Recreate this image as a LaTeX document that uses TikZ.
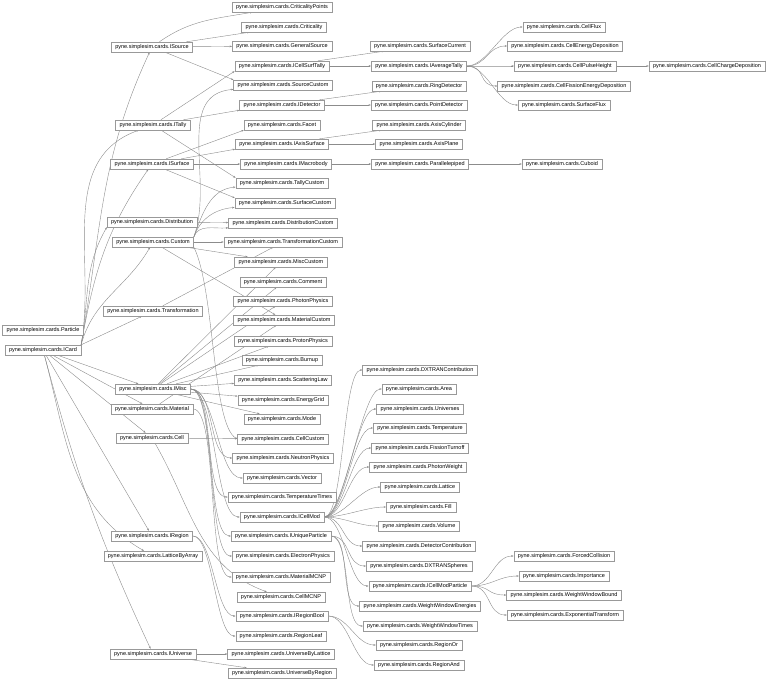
\documentclass[tikz,border=0pt]{standalone}
\usepackage{fontspec}
\setmainfont{Liberation Sans}
\usetikzlibrary{arrows.meta, backgrounds}
\newcommand{\pyc}{pyne.simplesim.cards.}
\tikzset{
  card/.style={draw=black!40, line width=0.4pt, fill=white,
    font=\fontsize{5.5}{6}\selectfont, inner xsep=4pt, inner ysep=0pt,
    minimum height=10pt},
  edge/.style={draw=black!45, line width=0.4pt, -{Stealth[length=2.5pt,width=1.8pt]}},
  lr/.style={out=0, in=180, distance=#1},
  lr/.default=20pt
}
\begin{document}
\begin{tikzpicture}[x=1pt,y=1pt]
\useasboundingbox (0,0) rectangle (768,-681);
% left column
\node[card] (ISource) at (152,-47) {\pyc ISource};
\node[card] (ITally) at (153,-125) {\pyc ITally};
\node[card] (ISurface) at (152,-164) {\pyc ISurface};
\node[card] (Dist) at (152,-222) {\pyc Distribution};
\node[card] (Custom) at (153,-242) {\pyc Custom};
\node[card] (Transf) at (153,-311) {\pyc Transformation};
\node[card] (Particle) at (43,-330) {\pyc Particle};
\node[card] (ICard) at (43,-350) {\pyc ICard};
\node[card] (IMisc) at (153,-389) {\pyc IMisc};
\node[card] (Material) at (152,-409) {\pyc Material};
\node[card] (Cell) at (152,-438) {\pyc Cell};
\node[card] (IRegion) at (152,-536) {\pyc IRegion};
\node[card] (LatArray) at (153,-556) {\pyc LatticeByArray};
\node[card] (IUniverse) at (153,-654) {\pyc IUniverse};
% middle column
\node[card] (CritPts) at (282,-7) {\pyc CriticalityPoints};
\node[card] (Crit) at (284,-27) {\pyc Criticality};
\node[card] (GenSource) at (282,-46) {\pyc GeneralSource};
\node[card] (ICellSurf) at (282,-66) {\pyc ICellSurfTally};
\node[card] (SrcCustom) at (283,-85) {\pyc SourceCustom};
\node[card] (IDetector) at (282,-105) {\pyc IDetector};
\node[card] (Facet) at (282,-125) {\pyc Facet};
\node[card] (IAxisSurf) at (282,-144) {\pyc IAxisSurface};
\node[card] (IMacrobody) at (286,-164) {\pyc IMacrobody};
\node[card] (TallyCustom) at (282,-183) {\pyc TallyCustom};
\node[card] (SurfCustom) at (285,-203) {\pyc SurfaceCustom};
\node[card] (DistCustom) at (283,-223) {\pyc DistributionCustom};
\node[card] (TransfCustom) at (283,-242) {\pyc TransformationCustom};
\node[card] (MiscCustom) at (281,-262) {\pyc MiscCustom};
\node[card] (Comment) at (283,-282) {\pyc Comment};
\node[card] (PhotonPhys) at (283,-301) {\pyc PhotonPhysics};
\node[card] (MatCustom) at (284,-320) {\pyc MaterialCustom};
\node[card] (ProtonPhys) at (283,-341) {\pyc ProtonPhysics};
\node[card] (Burnup) at (282,-360) {\pyc Burnup};
\node[card] (ScatLaw) at (283,-380) {\pyc ScatteringLaw};
\node[card] (EnergyGrid) at (283,-400) {\pyc EnergyGrid};
\node[card] (Mode) at (282,-419) {\pyc Mode};
\node[card] (CellCustom) at (283,-439) {\pyc CellCustom};
\node[card] (NeutronPhys) at (283,-458) {\pyc NeutronPhysics};
\node[card] (Vector) at (282,-478) {\pyc Vector};
\node[card] (TempTimes) at (282,-497) {\pyc TemperatureTimes};
\node[card] (ICellMod) at (282,-517) {\pyc ICellMod};
\node[card] (IUniquePart) at (281,-536) {\pyc IUniqueParticle};
\node[card] (ElectronPhys) at (283,-556) {\pyc ElectronPhysics};
\node[card] (MatMCNP) at (281,-577) {\pyc MaterialMCNP};
\node[card] (CellMCNP) at (281,-597) {\pyc CellMCNP};
\node[card] (IRegionBool) at (282,-616) {\pyc IRegionBool};
\node[card] (RegionLeaf) at (281,-636) {\pyc RegionLeaf};
\node[card] (UnivLattice) at (281,-654) {\pyc UniverseByLattice};
\node[card] (UnivRegion) at (282,-673) {\pyc UniverseByRegion};
% right column
\node[card] (SurfCurrent) at (420,-46) {\pyc SurfaceCurrent};
\node[card] (IAvgTally) at (419,-66) {\pyc IAverageTally};
\node[card] (RingDet) at (419,-86) {\pyc RingDetector};
\node[card] (PointDet) at (419,-105) {\pyc PointDetector};
\node[card] (AxisCyl) at (419,-125) {\pyc AxisCylinder};
\node[card] (AxisPlane) at (419,-144) {\pyc AxisPlane};
\node[card] (Parallelepiped) at (420,-164) {\pyc Parallelepiped};
\node[card] (DXTRANContr) at (420,-370) {\pyc DXTRANContribution};
\node[card] (Area) at (419,-389) {\pyc Area};
\node[card] (Universes) at (420,-409) {\pyc Universes};
\node[card] (Temperature) at (420,-428) {\pyc Temperature};
\node[card] (FissionTurnoff) at (420,-448) {\pyc FissionTurnoff};
\node[card] (PhotonWeight) at (418,-467) {\pyc PhotonWeight};
\node[card] (Lattice) at (420,-487) {\pyc Lattice};
\node[card] (Fill) at (421,-507) {\pyc Fill};
\node[card] (Volume) at (419,-526) {\pyc Volume};
\node[card] (DetContr) at (419,-546) {\pyc DetectorContribution};
\node[card] (DXTRANSph) at (419,-566) {\pyc DXTRANSpheres};
\node[card] (ICellModPart) at (420,-586) {\pyc ICellModParticle};
\node[card] (WWEnergies) at (420,-606) {\pyc WeightWindowEnergies};
\node[card] (WWTimes) at (420,-626) {\pyc WeightWindowTimes};
\node[card] (RegionOr) at (419,-645) {\pyc RegionOr};
\node[card] (RegionAnd) at (419,-665) {\pyc RegionAnd};
% far right
\node[card] (CellFlux) at (564,-27) {\pyc CellFlux};
\node[card] (CellEDep) at (565,-46) {\pyc CellEnergyDeposition};
\node[card] (CellPulse) at (565,-66) {\pyc CellPulseHeight};
\node[card] (CellFissEDep) at (564,-86) {\pyc CellFissionEnergyDeposition};
\node[card] (SurfFlux) at (564,-105) {\pyc SurfaceFlux};
\node[card] (Cuboid) at (562,-164) {\pyc Cuboid};
\node[card] (CellCharge) at (707,-66) {\pyc CellChargeDeposition};
\node[card] (ForcedColl) at (564,-556) {\pyc ForcedCollision};
\node[card] (Importance) at (564,-576) {\pyc Importance};
\node[card] (WWBound) at (564,-595) {\pyc WeightWindowBound};
\node[card] (ExpTransform) at (565,-615) {\pyc ExponentialTransform};
\begin{scope}[on background layer]
% ICard
\draw[edge] (ICard.north east) to[out=80,in=-115] (ISource);
\draw[edge] (ICard.north east) to[out=80,in=-160] (ITally);
\draw[edge] (ICard.north east) to[out=80,in=-125] (ISurface);
\draw[edge] (ICard.north east) to[out=80,in=-120] (Dist.south west);
\draw[edge] (ICard.north east) to[out=75,in=-120] (Custom);
\draw[edge] (ICard.north east) -- (Transf);
\draw[edge] (ICard) -- (IMisc);
\draw[edge] (ICard) -- (Material);
\draw[edge] (ICard) -- (Cell);
\draw[edge] (ICard) -- (IRegion);
\draw[edge] (ICard) to[out=-75,in=150] (LatArray);
\draw[edge] (ICard) to[out=-75,in=115] (IUniverse);
% sources and tallies
\draw[edge] (ISource) to[out=35,in=190] (CritPts);
\draw[edge] (ISource) -- (Crit);
\draw[edge] (ISource) -- (GenSource);
\draw[edge] (ISource) -- (SrcCustom.north west);
\draw[edge] (ITally) -- (ICellSurf.south west);
\draw[edge] (ITally) -- (IDetector.south west);
\draw[edge] (ITally) -- (TallyCustom.north west);
\draw[edge] (ICellSurf) -- (SurfCurrent);
\draw[edge] (ICellSurf) -- (IAvgTally);
\foreach \t in {CellFlux,CellEDep,CellPulse,CellFissEDep,SurfFlux}
  \draw[edge] (IAvgTally.east) to[lr] (\t.west);
\draw[edge] (CellPulse) -- (CellCharge);
\draw[edge] (IDetector) -- (RingDet);
\draw[edge] (IDetector) -- (PointDet);
% surfaces
\draw[edge] (ISurface) -- (Facet.south west);
\draw[edge] (ISurface) -- (IAxisSurf.south west);
\draw[edge] (ISurface) -- (IMacrobody.west);
\draw[edge] (ISurface) -- (SurfCustom.north west);
\draw[edge] (IAxisSurf) -- (AxisCyl);
\draw[edge] (IAxisSurf) -- (AxisPlane);
\draw[edge] (IMacrobody) -- (Parallelepiped);
\draw[edge] (Parallelepiped) -- (Cuboid);
% custom cards
\draw[edge] (Dist) -- (DistCustom);
\foreach \t in {SrcCustom,TallyCustom,SurfCustom,DistCustom}
  \draw[edge] (Custom.north east) to[out=70,in=185] (\t);
\foreach \t in {TransfCustom,MiscCustom,MatCustom} \draw[edge] (Custom) -- (\t);
\draw[edge] (Custom.south east) .. controls (215,-290) and (212,-425) .. (CellCustom.west);
\draw[edge] (Transf) -- (TransfCustom);
% misc
\foreach \t in {MiscCustom,Comment,PhotonPhys,ProtonPhys,Burnup,ScatLaw,EnergyGrid,Mode}
  \draw[edge] (IMisc) -- (\t);
\foreach \t in {NeutronPhys,Vector,TempTimes,ICellMod,IUniquePart,ElectronPhys}
  \draw[edge] (IMisc.east) to[lr=25pt] (\t.west);
\draw[edge] (Material) -- (MatCustom);
\draw[edge] (Material.east) to[lr=25pt] (MatMCNP.west);
\draw[edge] (Cell) -- (CellCustom);
\draw[edge] (Cell) to[out=-60,in=160] (CellMCNP);
\foreach \t in {DXTRANContr,Area,Universes,Temperature,FissionTurnoff,PhotonWeight,Lattice,Fill,Volume,DetContr,ICellModPart}
  \draw[edge] (ICellMod.east) to[lr] (\t.west);
\foreach \t in {DXTRANSph,WWEnergies,WWTimes}
  \draw[edge] (IUniquePart.east) to[lr] (\t.west);
\foreach \t in {ForcedColl,Importance,WWBound,ExpTransform}
  \draw[edge] (ICellModPart.east) to[lr] (\t.west);
% regions and universes
\foreach \t in {IRegionBool,RegionLeaf} \draw[edge] (IRegion.east) to[lr] (\t.west);
\foreach \t in {RegionOr,RegionAnd} \draw[edge] (IRegionBool.east) to[lr] (\t.west);
\draw[edge] (IUniverse) -- (UnivLattice);
\draw[edge] (IUniverse) -- (UnivRegion);
\end{scope}
\end{tikzpicture}
\end{document}
